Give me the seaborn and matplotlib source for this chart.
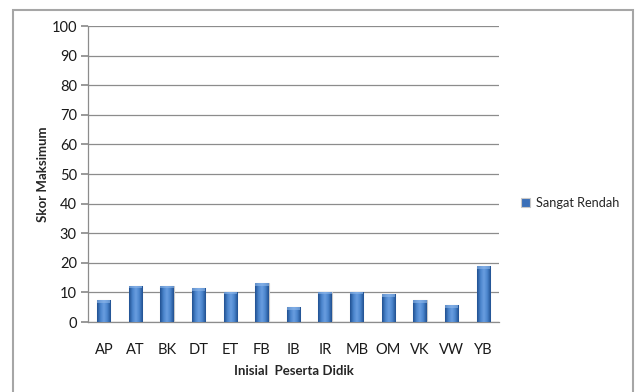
import numpy as np
import pandas as pd
import matplotlib
matplotlib.use("Agg")
import matplotlib.pyplot as plt
from matplotlib.patches import Rectangle
from matplotlib.colors import LinearSegmentedColormap
import seaborn as sns

# Data
students = ["AP", "AT", "BK", "DT", "ET", "FB", "IB", "IR", "MB", "OM", "VK", "VW", "YB"]
scores = [7.4, 12.3, 12.3, 11.4, 10.2, 13.1, 4.9, 10.2, 10.2, 9.3, 7.4, 5.7, 18.8]
series_name = "Sangat Rendah"

df = pd.DataFrame({"Inisial": students, "Skor": scores})

sns.set_theme(style="white")
plt.rcParams["font.family"] = ["Lato", "DejaVu Sans"]

fig = plt.figure(figsize=(6.39, 3.92), dpi=100)
ax = fig.add_axes([88 / 639, 1 - 322 / 392, (499 - 88) / 639, (322 - 26) / 392])

sns.barplot(data=df, x="Inisial", y="Skor", color="#3a6fb8", width=0.42,
            ax=ax, zorder=3, label=series_name)

# cylinder-like horizontal shading on each bar
shade = LinearSegmentedColormap.from_list(
    "shade", ["#1f4f8f", "#4a84cc", "#6a9ee0", "#4a84cc", "#1f4f8f"])
grad = np.linspace(0, 1, 64).reshape(1, -1)
for p in list(ax.patches):
    x0, y0 = p.get_x(), p.get_y()
    w, h = p.get_width(), p.get_height()
    im = ax.imshow(grad, cmap=shade, aspect="auto", extent=(x0, x0 + w, y0, y0 + h),
                   zorder=4, interpolation="bicubic")
    im.set_clip_path(p)
    ax.add_patch(Rectangle((x0, y0 + h - 0.9), w, 0.9, facecolor="#8fb8ea",
                           edgecolor="none", alpha=0.6, zorder=5))
    p.set_edgecolor("#c8c8c8")
    p.set_linewidth(0.8)

ax.set_xlim(-0.5, len(students) - 0.5)
ax.set_ylim(0, 100)
ax.set_yticks(range(0, 101, 10))
ax.yaxis.grid(True, color="#8c8c8c", linewidth=0.9, zorder=0)
ax.xaxis.grid(False)
for s in ["top", "right"]:
    ax.spines[s].set_visible(False)
ax.spines["left"].set_color("#8c8c8c")
ax.spines["bottom"].set_color("#8c8c8c")
ax.spines["left"].set_linewidth(0.9)
ax.spines["bottom"].set_linewidth(0.9)
ax.tick_params(axis="y", length=5, color="#8c8c8c", labelsize=10.5, pad=3,
               left=True, labelcolor="#1a1a1a")
ax.tick_params(axis="x", length=0, labelsize=10.5, pad=15, labelcolor="#1a1a1a")

ax.set_xlabel("Inisial  Peserta Didik", fontsize=9.5, fontweight="bold", labelpad=6)
ax.set_ylabel("Skor Maksimum", fontsize=9.5, fontweight="bold", labelpad=2)

handles, labels = ax.get_legend_handles_labels()
if ax.get_legend() is not None:
    ax.get_legend().remove()
leg = fig.legend(handles, labels, loc="center left",
                 bbox_to_anchor=(521 / 639, 1 - 203 / 392), frameon=False,
                 fontsize=9.2, handlelength=0.7, handleheight=0.7,
                 handletextpad=0.5, borderaxespad=0, borderpad=0)
for h in leg.legend_handles:
    h.set_facecolor("#3a6fb8")
    h.set_edgecolor("#c8c8c8")

# chart border
fig.add_artist(Rectangle((13 / 639, -0.05), (633 - 13) / 639, 1 - 10 / 392 + 0.05,
                         transform=fig.transFigure, fill=False,
                         edgecolor="#a6a6a6", linewidth=1.5))

fig.savefig("out.png", dpi=100)
